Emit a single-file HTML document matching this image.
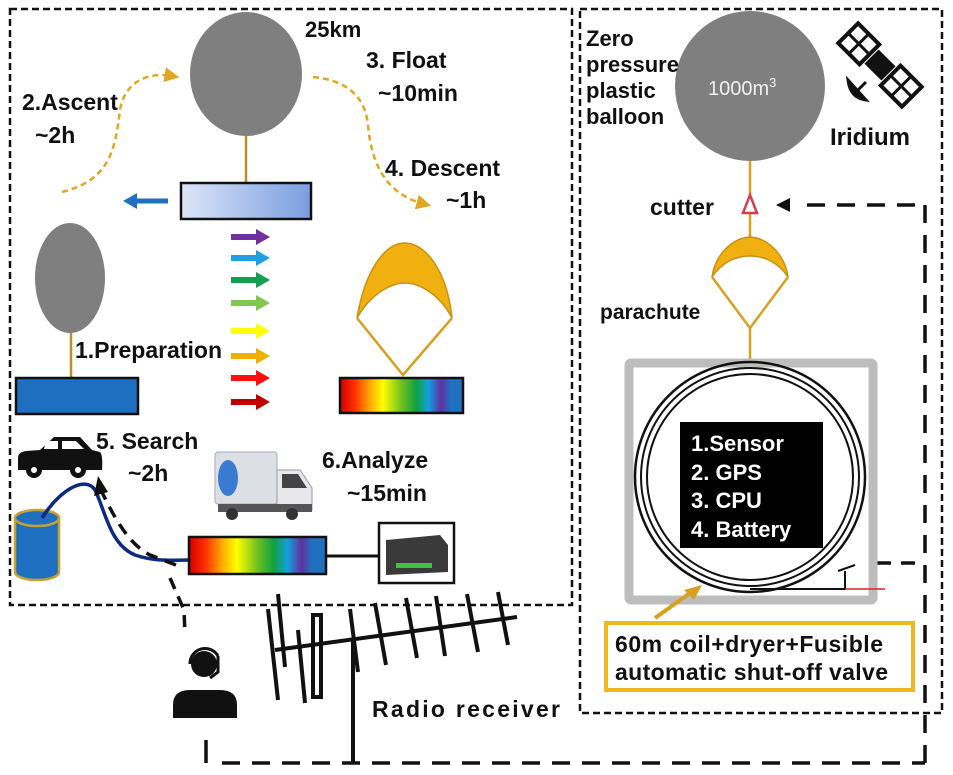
<!DOCTYPE html>
<html><head><meta charset="utf-8"><style>
html,body{margin:0;padding:0;background:#fff;}
svg{display:block;}
text{font-family:"Liberation Sans",Arial,sans-serif;font-weight:bold;fill:#111;}
</style></head><body>
<svg width="953" height="775" viewBox="0 0 953 775" xmlns="http://www.w3.org/2000/svg">
<defs>
<linearGradient id="spec" x1="0" x2="1" y1="0" y2="0">
<stop offset="0" stop-color="#d40000"/><stop offset="0.12" stop-color="#ff3000"/><stop offset="0.25" stop-color="#ffb000"/><stop offset="0.35" stop-color="#ffff00"/><stop offset="0.5" stop-color="#70c020"/><stop offset="0.62" stop-color="#10a040"/><stop offset="0.72" stop-color="#10a0e0"/><stop offset="0.82" stop-color="#6030a0"/><stop offset="0.9" stop-color="#2070c0"/><stop offset="1" stop-color="#2070c0"/>
</linearGradient>
<linearGradient id="blu" x1="0" x2="1"><stop offset="0" stop-color="#dde6f8"/><stop offset="1" stop-color="#7a9ee0"/></linearGradient>
<marker id="ya" markerWidth="6" markerHeight="6" refX="3" refY="3" orient="auto"><path d="M0,0 L6,3 L0,6 Z" fill="#e0a820"/></marker>
</defs>

<rect x="10" y="9" width="562" height="596" fill="none" stroke="#111" stroke-width="2.5" stroke-dasharray="7,4"/>
<rect x="580" y="9" width="362" height="704" fill="none" stroke="#111" stroke-width="2.5" stroke-dasharray="7,4"/>

<ellipse cx="246" cy="74" rx="56" ry="62" fill="#7f7f7f"/>
<line x1="246" y1="136" x2="246" y2="183" stroke="#b8902a" stroke-width="2.5"/>
<rect x="181" y="183" width="130" height="36" fill="url(#blu)" stroke="#111" stroke-width="2.5"/>
<text x="305" y="37" font-size="22">25km</text>
<text x="366" y="68" font-size="23">3. Float</text>
<text x="378" y="101" font-size="23">~10min</text>
<text x="22" y="110" font-size="23">2.Ascent</text>
<text x="35" y="143" font-size="23">~2h</text>
<text x="385" y="176" font-size="23">4. Descent</text>
<text x="446" y="208" font-size="23">~1h</text>
<path d="M62,192 C110,180 115,150 120,110 C125,80 150,72 172,76" fill="none" stroke="#e0a820" stroke-width="2.5" stroke-dasharray="6,4" marker-end="url(#ya)"/>
<path d="M313,77 C345,80 365,95 368,125 C372,170 390,195 424,204" fill="none" stroke="#e0a820" stroke-width="2.5" stroke-dasharray="6,4" marker-end="url(#ya)"/>
<line x1="168" y1="201" x2="133" y2="201" stroke="#1f70c0" stroke-width="5"/>
<path d="M123,201 L137,193 L137,209 Z" fill="#1f70c0"/>
<g>
<g fill="#7030a0"><rect x="231" y="234" width="26" height="6"/><path d="M256,229 L270,237 L256,245Z"/></g>
<g fill="#20a0e0"><rect x="231" y="255" width="26" height="6"/><path d="M256,250 L270,258 L256,266Z"/></g>
<g fill="#10a050"><rect x="231" y="277" width="26" height="6"/><path d="M256,272 L270,280 L256,288Z"/></g>
<g fill="#80c850"><rect x="231" y="300" width="26" height="6"/><path d="M256,295 L270,303 L256,311Z"/></g>
<g fill="#ffff00"><rect x="231" y="328" width="26" height="6"/><path d="M256,323 L270,331 L256,339Z"/></g>
<g fill="#f0b000"><rect x="231" y="353" width="26" height="6"/><path d="M256,348 L270,356 L256,364Z"/></g>
<g fill="#ff1010"><rect x="231" y="375" width="26" height="6"/><path d="M256,370 L270,378 L256,386Z"/></g>
<g fill="#c00000"><rect x="231" y="399" width="26" height="6"/><path d="M256,394 L270,402 L256,410Z"/></g>
</g>

<ellipse cx="70" cy="278" rx="35" ry="55" fill="#7f7f7f"/>
<line x1="71" y1="333" x2="71" y2="378" stroke="#b8902a" stroke-width="2.5"/>
<rect x="16" y="378" width="122" height="36" fill="#1f6fc0" stroke="#111" stroke-width="2.5"/>
<text x="75" y="358" font-size="23">1.Preparation</text>

<path d="M357,318 C365,270 385,243 405,243 C425,243 447,270 452,318 C440,295 420,283 405,283 C390,283 370,295 357,318Z" fill="#f0b010" stroke="#c89010" stroke-width="1.5"/>
<path d="M357,318 L403,375 L452,318" fill="none" stroke="#d8a020" stroke-width="2.5"/>
<rect x="340" y="378" width="123" height="35" fill="url(#spec)" stroke="#111" stroke-width="2.5"/>

<g fill="#111">
<path d="M18,470 L18,458 Q18,452 26,451 L40,450 L54,437 L80,437 L92,450 L100,452 Q103,455 102,470 Z"/>
<circle cx="34" cy="470" r="8"/><circle cx="78" cy="470" r="8"/>
</g>
<path d="M46,441 L58,441 L58,449 L44,449Z M62,441 L76,441 L84,449 L62,449Z" fill="#fff"/>
<circle cx="34" cy="470" r="3" fill="#fff"/><circle cx="78" cy="470" r="3" fill="#fff"/>
<text x="96" y="449" font-size="23">5. Search</text>
<text x="128" y="481" font-size="23">~2h</text>

<g>
<rect x="215" y="452" width="62" height="52" rx="3" fill="#dcdfe4" stroke="#aab" stroke-width="1"/>
<ellipse cx="228" cy="478" rx="10" ry="18" fill="#3a7ad0"/>
<path d="M277,470 L300,470 L312,488 L312,510 L277,510Z" fill="#e8e8ea" stroke="#99a" stroke-width="1"/>
<path d="M282,474 L298,474 L307,488 L282,488Z" fill="#444"/>
<rect x="218" y="504" width="94" height="8" fill="#555"/>
<circle cx="232" cy="514" r="6" fill="#333"/><circle cx="292" cy="514" r="6" fill="#333"/>
</g>
<text x="322" y="468" font-size="23">6.Analyze</text>
<text x="347" y="501" font-size="23">~15min</text>

<path d="M15,518 L15,572 A22,8 0 0 0 59,572 L59,518Z" fill="#1f6fc0" stroke="#c8a030" stroke-width="2.5"/>
<ellipse cx="37" cy="518" rx="22" ry="8" fill="#1f6fc0" stroke="#c8a030" stroke-width="2.5"/>
<path d="M42,518 C60,490 85,475 95,490 C105,510 110,545 135,555 C155,562 175,560 190,560" fill="none" stroke="#0c2a80" stroke-width="3.5"/>
<path d="M176,565 L150,555 C130,545 115,520 100,488" fill="none" stroke="#111" stroke-width="3.5" stroke-dasharray="12,8"/>
<path d="M98,476 L94,496 L108,492Z" fill="#111"/>

<rect x="189" y="537" width="137" height="37" fill="url(#spec)" stroke="#111" stroke-width="2.5"/>
<line x1="326" y1="556" x2="378" y2="556" stroke="#111" stroke-width="3"/>
<rect x="379" y="523" width="75" height="60" fill="#fff" stroke="#111" stroke-width="2.5"/>
<path d="M386,540 L440,535 L448,545 L448,572 L386,575Z" fill="#3a3a3a"/>
<rect x="396" y="563" width="36" height="5" fill="#40c040"/>

<path d="M170,578 L184,610 L185,635" fill="none" stroke="#111" stroke-width="3.5" stroke-dasharray="12,8"/>
<line x1="206" y1="740" x2="206" y2="763" stroke="#111" stroke-width="3.5"/>
<line x1="222" y1="763" x2="925" y2="763" stroke="#111" stroke-width="3.5" stroke-dasharray="18,12"/>
<line x1="925" y1="763" x2="925" y2="205" stroke="#111" stroke-width="3.5" stroke-dasharray="18,12"/>
<line x1="915" y1="205" x2="795" y2="205" stroke="#111" stroke-width="3.5" stroke-dasharray="18,12"/>
<path d="M776,205 L790,198 L790,212Z" fill="#111"/>
<line x1="915" y1="563" x2="875" y2="563" stroke="#111" stroke-width="3.5" stroke-dasharray="14,10"/>
<path d="M860,563 L874,556 L874,570Z" fill="#111"/>

<circle cx="204" cy="664" r="13" fill="#111"/>
<path d="M190,664 A15,15 0 0 1 218,656" fill="none" stroke="#111" stroke-width="3"/>
<path d="M218,656 L218,672 L210,678" fill="none" stroke="#111" stroke-width="3"/>
<path d="M173,718 L173,705 Q173,690 190,690 L220,690 Q237,690 237,705 L237,718Z" fill="#111"/>

<g stroke="#111" stroke-width="4" fill="none">
<line x1="275" y1="650" x2="517" y2="617"/>
<line x1="353" y1="640" x2="353" y2="763"/>
<line x1="268" y1="609" x2="278" y2="700"/>
<line x1="278" y1="594" x2="285" y2="667"/>
<line x1="298" y1="630" x2="305" y2="703"/>
<rect x="313" y="615" width="8" height="82"/>
<line x1="350" y1="609" x2="358" y2="672"/>
<line x1="375" y1="603" x2="386" y2="665"/>
<line x1="406" y1="598" x2="417" y2="658"/>
<line x1="436" y1="596" x2="445" y2="656"/>
<line x1="467" y1="594" x2="478" y2="652"/>
<line x1="498" y1="592" x2="508" y2="645"/>
</g>
<text x="372" y="717" font-size="23" textLength="188">Radio  receiver</text>

<circle cx="750" cy="86" r="75" fill="#7f7f7f"/>
<text x="708" y="95" font-size="20" style="font-weight:normal;fill:#f0f0f0">1000m<tspan dy="-8" font-size="13" style="fill:#f0f0f0">3</tspan></text>
<text x="586" y="46" font-size="22">Zero</text>
<text x="586" y="72" font-size="22">pressure</text>
<text x="586" y="98" font-size="22">plastic</text>
<text x="586" y="124" font-size="22">balloon</text>
<g transform="translate(880,65) rotate(-45)">
<rect x="-10" y="-12" width="20" height="24" fill="#111"/>
<rect x="-14" y="-45" width="28" height="30" fill="#fff" stroke="#111" stroke-width="4"/>
<line x1="0" y1="-45" x2="0" y2="-15" stroke="#111" stroke-width="3"/><line x1="-14" y1="-30" x2="14" y2="-30" stroke="#111" stroke-width="3"/>
<rect x="-14" y="15" width="28" height="30" fill="#fff" stroke="#111" stroke-width="4"/>
<line x1="0" y1="15" x2="0" y2="45" stroke="#111" stroke-width="3"/><line x1="-14" y1="30" x2="14" y2="30" stroke="#111" stroke-width="3"/>
</g>
<path d="M848,80 Q850,98 866,100 Z" fill="#111" stroke="#111" stroke-width="3"/>
<line x1="858" y1="90" x2="866" y2="82" stroke="#111" stroke-width="3"/>
<text x="830" y="145" font-size="24">Iridium</text>
<line x1="750" y1="161" x2="750" y2="240" stroke="#d8a020" stroke-width="2.5"/>
<path d="M750,195 L757,213 L743,213Z" fill="#fff" stroke="#d04050" stroke-width="2.5"/>
<text x="650" y="215" font-size="23">cutter</text>
<path d="M712,277 C715,255 732,238 750,237 C768,238 785,255 788,277 C778,262 764,256 750,256 C736,256 722,262 712,277Z" fill="#f0b010" stroke="#c89010" stroke-width="1.5"/>
<path d="M712,277 L750,328 L788,277" fill="none" stroke="#d8a020" stroke-width="2.5"/>
<line x1="750" y1="328" x2="750" y2="360" stroke="#d8a020" stroke-width="2.5"/>
<text x="600" y="319" font-size="21">parachute</text>

<rect x="629" y="363" width="244" height="237" fill="#fff" stroke="#bdbdbd" stroke-width="9" rx="2"/>
<circle cx="750" cy="477" r="115" fill="none" stroke="#111" stroke-width="2.5"/>
<circle cx="750" cy="477" r="109" fill="none" stroke="#111" stroke-width="2"/>
<circle cx="750" cy="477" r="103" fill="none" stroke="#111" stroke-width="2"/>
<rect x="680" y="422" width="143" height="126" fill="#000"/>
<text x="691" y="451" font-size="22" style="fill:#fff">1.Sensor</text>
<text x="691" y="480" font-size="22" style="fill:#fff">2. GPS</text>
<text x="691" y="508" font-size="22" style="fill:#fff">3. CPU</text>
<text x="691" y="537" font-size="22" style="fill:#fff">4. Battery</text>
<path d="M790,589 L845,589 L845,571 M838,571 L855,565" fill="none" stroke="#111" stroke-width="2"/>
<line x1="845" y1="589" x2="885" y2="589" stroke="#e02020" stroke-width="1.5"/>
<line x1="750" y1="589" x2="790" y2="589" stroke="#111" stroke-width="2"/>
<line x1="655" y1="618" x2="690" y2="593" stroke="#d8a020" stroke-width="4"/>
<path d="M702,585 L684,590 L694,600Z" fill="#d8a020"/>
<rect x="606" y="623" width="307" height="67" fill="#fff" stroke="#f0b820" stroke-width="4"/>
<text x="615" y="652" font-size="23" textLength="268">60m coil+dryer+Fusible</text>
<text x="615" y="680" font-size="23" textLength="273">automatic shut-off valve</text>
</svg>
</body></html>
